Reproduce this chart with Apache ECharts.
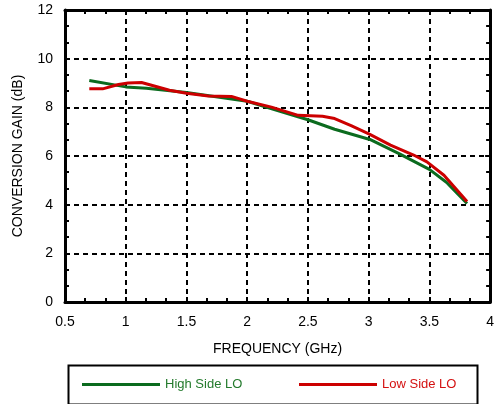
<!DOCTYPE html>
<html><head><meta charset="utf-8">
<script src="https://cdn.jsdelivr.net/npm/echarts@6/dist/echarts.min.js"></script>
<style>html,body{margin:0;padding:0;background:#fff}#c{width:497px;height:404px}</style>
</head><body><div id="c"></div>
<script>
const highX = [0.70, 1.00, 1.17, 1.50, 2.00, 2.50, 2.72, 3.01, 3.25, 3.50, 3.64, 3.81];
const highY = [9.10, 8.84, 8.78, 8.61, 8.25, 7.49, 7.10, 6.68, 6.10, 5.45, 4.92, 4.05];
const lowX = [0.70, 0.81, 0.94, 1.02, 1.13, 1.19, 1.36, 1.50, 1.68, 1.87, 2.00, 2.20, 2.42, 2.62, 2.72, 2.86, 3.01, 3.18, 3.37, 3.48, 3.62, 3.81];
const lowY = [8.76, 8.76, 8.94, 9.00, 9.02, 8.94, 8.70, 8.58, 8.47, 8.45, 8.25, 8.01, 7.67, 7.63, 7.54, 7.24, 6.89, 6.45, 6.04, 5.76, 5.21, 4.13];
const seriesNames = ['High Side LO', 'Low Side LO'];
const xTitle = 'FREQUENCY (GHz)';
const yTitle = 'CONVERSION GAIN (dB)';

const zip = (a, b) => a.map((v, i) => [v, b[i]]);
const GREEN = '#0b6b1e', RED = '#cc0000';
const font = 'Liberation Sans, Arial, sans-serif';
const split = {show: true, lineStyle: {color: '#000', width: 2, type: [5, 4]}};
const tick = {show: true, inside: true, length: 5, lineStyle: {color: '#000', width: 2}};
const minor = {show: true, splitNumber: 3, length: 4, lineStyle: {color: '#000', width: 2}};
const line = {show: true, onZero: false, lineStyle: {color: '#000', width: 3}};

const chart = echarts.init(document.getElementById('c'), null, {renderer: 'canvas'});
chart.setOption({
  animation: false,
  grid: {left: 65, right: 4, top: 10, bottom: 102},
  xAxis: [
    {type: 'value', min: 0.5, max: 4, interval: 0.5, position: 'bottom',
     axisLine: line, axisTick: tick, minorTick: minor, splitLine: split,
     axisLabel: {color: '#000', fontSize: 14, fontFamily: font, margin: 13},
     name: xTitle, nameLocation: 'middle', nameGap: 40,
     nameTextStyle: {color: '#000', fontSize: 14, fontFamily: font}},
    {type: 'value', min: 0.5, max: 4, interval: 0.5, position: 'top',
     axisLine: line, axisTick: tick, minorTick: minor, splitLine: {show: false},
     axisLabel: {show: false}}
  ],
  yAxis: [
    {type: 'value', min: 0, max: 12, interval: 2, position: 'left',
     axisLine: line, axisTick: tick, minorTick: minor, splitLine: split,
     axisLabel: {color: '#000', fontSize: 14, fontFamily: font, margin: 12},
     name: yTitle, nameLocation: 'middle', nameGap: 40,
     nameTextStyle: {color: '#000', fontSize: 14, fontFamily: font}},
    {type: 'value', min: 0, max: 12, interval: 2, position: 'right',
     axisLine: line, axisTick: tick, minorTick: minor, splitLine: {show: false},
     axisLabel: {show: false}}
  ],
  legend: [
    {left: 82, top: 376, itemWidth: 78, itemHeight: 3, icon: 'rect', padding: [2, 0, 2, 0],
     data: [{name: seriesNames[0], textStyle: {color: '#237a2c'}}],
     textStyle: {fontSize: 13, fontFamily: font}},
    {left: 299, top: 376, itemWidth: 78, itemHeight: 3, icon: 'rect', padding: [2, 0, 2, 0],
     data: [{name: seriesNames[1], textStyle: {color: '#d41111'}}],
     textStyle: {fontSize: 13, fontFamily: font}}
  ],
  graphic: [
    {type: 'rect', left: 66, top: 363, shape: {width: 409, height: 39},
     style: {fill: 'none', stroke: '#000', lineWidth: 2}, z: 0}
  ],
  series: [
    {name: seriesNames[0], type: 'line', data: zip(highX, highY), showSymbol: false,
     lineStyle: {color: GREEN, width: 3}, itemStyle: {color: GREEN}, z: 3},
    {name: seriesNames[1], type: 'line', data: zip(lowX, lowY), showSymbol: false,
     lineStyle: {color: RED, width: 3}, itemStyle: {color: RED}, z: 4}
  ]
});
</script></body></html>
